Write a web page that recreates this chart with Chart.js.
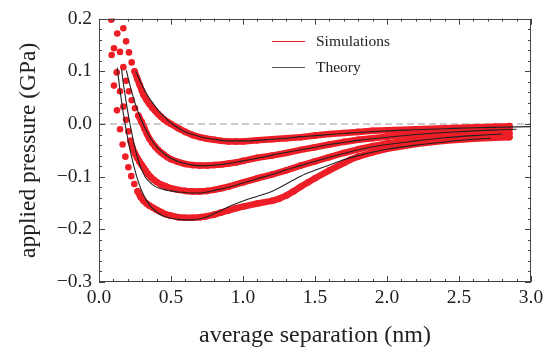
<!DOCTYPE html>
<html>
<head>
<meta charset="utf-8">
<script src="https://cdn.jsdelivr.net/npm/chart.js@4.4.1/dist/chart.umd.min.js"></script>
<style>
  html, body { margin: 0; padding: 0; background: #fff; }
  #wrap { width: 550px; height: 354px; }
</style>
</head>
<body>
<div id="wrap"><canvas id="c" width="550" height="354"></canvas></div>
<script>
// Applied pressure (GPa) vs average separation (nm): MD simulations and theory

const sim1 = [[0.169,0.182],[0.188,0.157],[0.208,0.136],[0.227,0.117],[0.247,0.100],[0.266,0.086],[0.283,0.074],[0.298,0.063],[0.31,0.055],[0.33,0.046],[0.35,0.038],[0.37,0.031],[0.39,0.025],[0.41,0.019],[0.43,0.014],[0.45,0.009],[0.475,0.004],[0.50,0.000],[0.55,-0.008],[0.60,-0.015],[0.65,-0.021],[0.70,-0.025],[0.75,-0.028],[0.80,-0.030],[0.85,-0.032],[0.90,-0.033],[0.95,-0.033],[1.00,-0.033],[1.10,-0.031],[1.20,-0.029],[1.30,-0.027],[1.40,-0.025],[1.50,-0.022],[1.60,-0.019],[1.70,-0.017],[1.80,-0.015],[1.90,-0.013],[2.00,-0.012],[2.20,-0.010],[2.40,-0.008],[2.60,-0.006],[2.75,-0.005],[2.85,-0.004]];

const sim2 = [[0.127,0.172],[0.146,0.137],[0.169,0.108],[0.188,0.082],[0.208,0.062],[0.227,0.045],[0.25,0.030],[0.273,0.016],[0.296,0.004],[0.315,-0.008],[0.333,-0.019],[0.35,-0.028],[0.37,-0.036],[0.39,-0.043],[0.41,-0.049],[0.43,-0.054],[0.45,-0.058],[0.475,-0.063],[0.50,-0.067],[0.55,-0.072],[0.60,-0.076],[0.65,-0.078],[0.70,-0.079],[0.75,-0.079],[0.80,-0.078],[0.85,-0.077],[0.90,-0.075],[0.95,-0.073],[1.00,-0.070],[1.10,-0.064],[1.20,-0.060],[1.30,-0.055],[1.40,-0.049],[1.50,-0.044],[1.60,-0.039],[1.70,-0.034],[1.80,-0.030],[1.90,-0.027],[2.00,-0.024],[2.20,-0.019],[2.40,-0.016],[2.60,-0.013],[2.75,-0.011],[2.85,-0.010]];

const sim3 = [[0.088,0.200],[0.104,0.144],[0.123,0.098],[0.146,0.062],[0.169,0.033],[0.188,0.008],[0.204,-0.014],[0.218,-0.032],[0.234,-0.046],[0.25,-0.056],[0.265,-0.064],[0.28,-0.071],[0.295,-0.077],[0.31,-0.083],[0.325,-0.089],[0.34,-0.095],[0.36,-0.101],[0.38,-0.106],[0.40,-0.110],[0.43,-0.115],[0.46,-0.118],[0.50,-0.122],[0.55,-0.125],[0.60,-0.127],[0.65,-0.128],[0.70,-0.128],[0.75,-0.127],[0.80,-0.125],[0.85,-0.122],[0.90,-0.119],[1.00,-0.111],[1.10,-0.103],[1.20,-0.096],[1.30,-0.088],[1.40,-0.079],[1.50,-0.071],[1.60,-0.063],[1.70,-0.055],[1.80,-0.048],[1.90,-0.042],[2.00,-0.037],[2.20,-0.030],[2.40,-0.025],[2.60,-0.021],[2.75,-0.019],[2.85,-0.018]];

const sim4 = [[0.085,0.198],[0.088,0.131],[0.104,0.073],[0.125,0.026],[0.146,-0.010],[0.164,-0.039],[0.183,-0.062],[0.204,-0.082],[0.224,-0.099],[0.245,-0.114],[0.268,-0.128],[0.29,-0.139],[0.31,-0.146],[0.33,-0.151],[0.35,-0.155],[0.375,-0.159],[0.40,-0.163],[0.43,-0.167],[0.46,-0.171],[0.50,-0.174],[0.55,-0.177],[0.60,-0.178],[0.65,-0.178],[0.70,-0.177],[0.75,-0.175],[0.80,-0.172],[0.85,-0.168],[0.90,-0.164],[0.95,-0.160],[1.00,-0.157],[1.10,-0.151],[1.20,-0.146],[1.25,-0.142],[1.30,-0.136],[1.35,-0.128],[1.40,-0.119],[1.45,-0.111],[1.50,-0.103],[1.60,-0.088],[1.70,-0.074],[1.75,-0.067],[1.80,-0.062],[1.90,-0.054],[2.00,-0.047],[2.20,-0.038],[2.40,-0.032],[2.60,-0.028],[2.75,-0.026],[2.85,-0.025]];

const theory1 = [[0.255,0.100],[0.27,0.091],[0.29,0.079],[0.31,0.068],[0.33,0.058],[0.35,0.049],[0.37,0.041],[0.40,0.030],[0.43,0.020],[0.46,0.012],[0.49,0.004],[0.52,-0.002],[0.56,-0.009],[0.60,-0.015],[0.65,-0.020],[0.70,-0.024],[0.75,-0.027],[0.80,-0.029],[0.85,-0.031],[0.90,-0.032],[1.00,-0.032],[1.10,-0.031],[1.20,-0.029],[1.30,-0.027],[1.40,-0.024],[1.50,-0.022],[1.60,-0.020],[1.70,-0.018],[1.80,-0.016],[2.00,-0.013],[2.20,-0.011],[2.40,-0.009],[2.60,-0.007],[2.80,-0.006],[3.00,-0.005]];

const theory2 = [[0.19,0.102],[0.20,0.090],[0.22,0.068],[0.24,0.049],[0.26,0.032],[0.28,0.017],[0.30,0.004],[0.32,-0.008],[0.34,-0.019],[0.36,-0.028],[0.38,-0.036],[0.40,-0.043],[0.43,-0.051],[0.46,-0.058],[0.50,-0.065],[0.55,-0.071],[0.60,-0.075],[0.65,-0.078],[0.70,-0.079],[0.75,-0.079],[0.80,-0.078],[0.90,-0.075],[1.00,-0.070],[1.10,-0.065],[1.20,-0.059],[1.30,-0.054],[1.40,-0.049],[1.50,-0.044],[1.60,-0.039],[1.70,-0.035],[1.80,-0.031],[2.00,-0.025],[2.20,-0.020],[2.40,-0.016],[2.60,-0.013],[2.80,-0.011],[2.90,-0.010]];

const theory3 = [[0.157,0.104],[0.165,0.085],[0.175,0.066],[0.185,0.048],[0.195,0.031],[0.205,0.015],[0.215,0.000],[0.23,-0.020],[0.245,-0.040],[0.26,-0.057],[0.28,-0.075],[0.30,-0.089],[0.32,-0.100],[0.35,-0.110],[0.38,-0.117],[0.42,-0.122],[0.46,-0.125],[0.50,-0.127],[0.55,-0.129],[0.60,-0.130],[0.65,-0.131],[0.70,-0.131],[0.75,-0.129],[0.80,-0.126],[0.90,-0.120],[1.00,-0.112],[1.10,-0.104],[1.20,-0.096],[1.30,-0.087],[1.40,-0.079],[1.50,-0.071],[1.60,-0.063],[1.70,-0.056],[1.80,-0.049],[2.00,-0.039],[2.20,-0.032],[2.40,-0.026],[2.60,-0.022],[2.80,-0.019]];

const theory4 = [[0.127,0.107],[0.135,0.088],[0.145,0.066],[0.155,0.046],[0.165,0.027],[0.175,0.010],[0.185,-0.006],[0.20,-0.028],[0.215,-0.048],[0.23,-0.066],[0.245,-0.083],[0.26,-0.098],[0.28,-0.115],[0.30,-0.129],[0.33,-0.145],[0.36,-0.157],[0.40,-0.167],[0.45,-0.175],[0.50,-0.179],[0.55,-0.181],[0.60,-0.182],[0.65,-0.182],[0.70,-0.180],[0.75,-0.176],[0.80,-0.170],[0.85,-0.164],[0.90,-0.157],[1.00,-0.146],[1.10,-0.137],[1.20,-0.128],[1.30,-0.114],[1.40,-0.099],[1.50,-0.088],[1.60,-0.078],[1.70,-0.068],[1.80,-0.060],[2.00,-0.048],[2.20,-0.040],[2.40,-0.034],[2.60,-0.029],[2.72,-0.027]];

const zeroLine = [[0, 0], [3, 0]];

const xTickLabels = ['0.0', '0.5', '1.0', '1.5', '2.0', '2.5', '3.0'];
const yTickLabels = ['\u22120.3', '\u22120.2', '\u22120.1', '0.0', '0.1', '0.2'];
const legendLabels = ['Simulations', 'Theory'];

const RED = 'rgb(237,30,38)';
const INK = '#222';
const FRAME = '#444';
const SERIF = "'Liberation Serif', 'Times New Roman', serif";

const toPts = arr => arr.map(([x, y]) => ({ x, y }));

// Simulation series: dots everywhere, joined into a thick band where the
// samples crowd together; steep, widely spaced samples stay as lone dots.
function simSet(arr) {
  return {
    data: toPts(arr),
    showLine: true,
    borderColor: RED,
    borderWidth: 6.5,
    borderCapStyle: 'round',
    borderJoinStyle: 'round',
    pointRadius: 3.3,
    pointBackgroundColor: RED,
    pointBorderWidth: 0,
    segment: {
      borderColor: ctx => {
        const dx = Math.abs(ctx.p1.x - ctx.p0.x);
        const dy = Math.abs(ctx.p1.y - ctx.p0.y);
        return (Math.hypot(dx, dy) > 8 && dy > 0.8 * dx) ? 'rgba(0,0,0,0)' : RED;
      }
    },
    order: 2
  };
}

function theorySet(arr) {
  return {
    data: toPts(arr),
    showLine: true,
    borderColor: INK,
    borderWidth: 1.1,
    pointRadius: 0,
    cubicInterpolationMode: 'monotone',
    order: 1
  };
}

// Inward tick marks on all four sides, the plot frame and the legend
const frameTicks = {
  id: 'frameTicks',
  afterDatasetsDraw(chart) {
    const { ctx, chartArea: a, scales: { x, y } } = chart;
    ctx.save();
    ctx.strokeStyle = FRAME;
    ctx.lineWidth = 1;
    ctx.beginPath();
    ctx.rect(Math.round(a.left) + 0.5, Math.round(a.top) + 0.5,
             Math.round(a.right - a.left) - 1, Math.round(a.bottom - a.top) - 1);
    ctx.stroke();
    ctx.beginPath();
    for (let i = 0; i <= 30; i++) {
      const px = Math.round(x.getPixelForValue(i / 10)) + 0.5;
      const len = i % 5 === 0 ? 6 : 3;
      ctx.moveTo(px, a.bottom); ctx.lineTo(px, a.bottom - len);
      ctx.moveTo(px, a.top); ctx.lineTo(px, a.top + len);
    }
    for (let i = -15; i <= 10; i++) {
      const py = Math.round(y.getPixelForValue(i / 50)) + 0.5;
      const len = i % 5 === 0 ? 6 : 3;
      ctx.moveTo(a.left, py); ctx.lineTo(a.left + len, py);
      ctx.moveTo(a.right, py); ctx.lineTo(a.right - len, py);
    }
    ctx.stroke();
    ctx.restore();
  },
  afterDraw(chart) {
    const { ctx } = chart;
    ctx.save();
    ctx.font = `15.5px ${SERIF}`;
    ctx.textBaseline = 'middle';
    ctx.fillStyle = '#222';
    const rows = [{ c: RED, y: 41.5 }, { c: '#555', y: 67.5 }];
    rows.forEach((r, i) => {
      ctx.strokeStyle = r.c;
      ctx.lineWidth = 1;
      ctx.beginPath();
      ctx.moveTo(272, r.y); ctx.lineTo(305, r.y);
      ctx.stroke();
      ctx.fillText(legendLabels[i], 316, r.y);
    });
    ctx.restore();
  }
};

new Chart(document.getElementById('c'), {
  type: 'scatter',
  data: {
    datasets: [
      { data: toPts(zeroLine), showLine: true, borderColor: '#9a9a9a', borderWidth: 1,
        borderDash: [7, 4], pointRadius: 0, order: 3 },
      simSet(sim1), simSet(sim2), simSet(sim3), simSet(sim4),
      theorySet(theory1), theorySet(theory2), theorySet(theory3), theorySet(theory4)
    ]
  },
  options: {
    responsive: false,
    animation: false,
    events: [],
    layout: { padding: { left: 0, right: 19, top: 14, bottom: 0 } },
    plugins: { legend: { display: false }, tooltip: { enabled: false } },
    scales: {
      x: {
        type: 'linear', min: 0, max: 3,
        afterBuildTicks: s => { s.ticks = xTickLabels.map(t => ({ value: parseFloat(t) })); },
        ticks: {
          callback: (v, i) => xTickLabels[i],
          font: { family: SERIF, size: 19.5 }, color: '#222', padding: 4, maxRotation: 0
        },
        grid: { display: false, drawTicks: false },
        border: { display: false },
        title: { display: true, text: 'average separation (nm)',
                 font: { family: SERIF, size: 24 }, color: '#222', padding: { bottom: 4 } },
        afterFit: s => { s.height = 72; }
      },
      y: {
        type: 'linear', min: -0.3, max: 0.2,
        afterBuildTicks: s => { s.ticks = yTickLabels.map(t => ({ value: parseFloat(t.replace('\u2212', '-')) })); },
        ticks: {
          callback: (v, i) => yTickLabels[i],
          font: { family: SERIF, size: 19.5 }, color: '#222', padding: 7
        },
        grid: { display: false, drawTicks: false },
        border: { display: false },
        title: { display: true, text: 'applied pressure (GPa)',
                 font: { family: SERIF, size: 23.5 }, color: '#222', padding: { top: 15 } },
        afterFit: s => { s.width = 99; }
      }
    }
  },
  plugins: [frameTicks]
});
</script>
</body>
</html>
